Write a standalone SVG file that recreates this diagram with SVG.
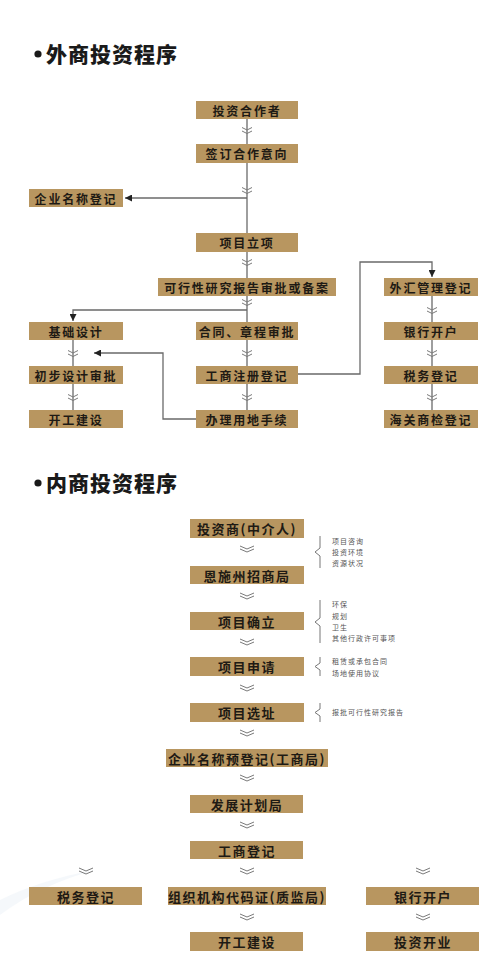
<svg xmlns="http://www.w3.org/2000/svg" width="500" height="967" viewBox="0 0 500 967">
<defs>
<style>
.box{fill:#b89660}
.t{font-family:"Noto Sans CJK SC","Noto Sans",sans-serif;font-weight:bold;font-size:12px;fill:#1e1a14;text-anchor:middle;dominant-baseline:central;letter-spacing:1.8px}
.t2{font-family:"Noto Sans CJK SC","Noto Sans",sans-serif;font-weight:bold;font-size:13px;fill:#1e1a14;text-anchor:middle;dominant-baseline:central;letter-spacing:1.5px}
.title{font-family:"Noto Sans CJK SC","Noto Sans",sans-serif;font-weight:900;font-size:21px;fill:#1a1a1a;letter-spacing:1px}
.side{font-family:"Noto Sans CJK SC","Noto Sans",sans-serif;font-size:7px;fill:#555;letter-spacing:1px}
.ln{fill:none;stroke:#6a6a6a;stroke-width:1.3}
.brace{fill:none;stroke:#777;stroke-width:1}
.chev{fill:none;stroke:#7a7a7a;stroke-width:1}
</style>
<marker id="ah" viewBox="0 0 10 10" refX="10" refY="5" markerWidth="7" markerHeight="7" markerUnits="userSpaceOnUse" orient="auto">
<path d="M0,0 L10,5 L0,10 Z" fill="#222"/>
</marker>
<symbol id="cv" overflow="visible"><path class="chev" d="M-5,-3.5 L0,-1 L5,-3.5 M-5,0 L0,2.5 L5,0"/></symbol>
<symbol id="cv2" overflow="visible"><path class="chev" d="M-7,-3 L0,0 L7,-3 M-7,0 L0,3 L7,0"/></symbol>
</defs>
<rect width="500" height="967" fill="#ffffff"/>
<path d="M0,900 Q40,880 95,870 Q40,885 0,915 Z" fill="#eef3f8" opacity="0.6"/>

<!-- Titles -->
<g id="title1"><circle cx="38" cy="54" r="3.6" fill="#1a1a1a"/><text class="title" x="46" y="62">外商投资程序</text></g>
<g id="title2"><circle cx="38" cy="483" r="3.6" fill="#1a1a1a"/><text class="title" x="46" y="491">内商投资程序</text></g>

<!-- Connectors -->
<g id="connectors">
<path class="ln" d="M247,119 V410"/>
<path class="ln" d="M247,198 H125" marker-end="url(#ah)"/>
<path class="ln" d="M247,310 H73 V321" marker-end="url(#ah)"/>
<path class="ln" d="M73,340 V410"/>
<path class="ln" d="M196,419 H163 V353 H94" marker-end="url(#ah)"/>
<path class="ln" d="M298,374 H360 V262 H432 V277" marker-end="url(#ah)"/>
<path class="ln" d="M432,296 V410"/>
<use href="#cv" x="247" y="131"/>
<use href="#cv" x="247" y="191"/>
<use href="#cv" x="247" y="263"/>
<use href="#cv" x="247" y="303"/>
<use href="#cv" x="247" y="354"/>
<use href="#cv" x="247" y="398"/>
<use href="#cv" x="73" y="354"/>
<use href="#cv" x="73" y="398"/>
<use href="#cv" x="432" y="311"/>
<use href="#cv" x="432" y="354"/>
<use href="#cv" x="432" y="398"/>

<use href="#cv2" x="247" y="549"/>
<use href="#cv2" x="247" y="596"/>
<use href="#cv2" x="247" y="642"/>
<use href="#cv2" x="247" y="688"/>
<use href="#cv2" x="247" y="733"/>
<use href="#cv2" x="247" y="778"/>
<use href="#cv2" x="247" y="825"/>
<use href="#cv2" x="247" y="871"/>
<use href="#cv2" x="86" y="871"/>
<use href="#cv2" x="423" y="871"/>
<use href="#cv2" x="247" y="917"/>
<use href="#cv2" x="423" y="917"/>
</g>

<!-- Top section nodes -->
<g id="n1"><rect class="box" x="196" y="101" width="102" height="18"/><text class="t" x="247" y="110">投资合作者</text></g>
<g id="n2"><rect class="box" x="196" y="144" width="102" height="19"/><text class="t" x="247" y="153.5">签订合作意向</text></g>
<g id="n3"><rect class="box" x="29" y="189" width="94" height="18"/><text class="t" x="76" y="198">企业名称登记</text></g>
<g id="n4"><rect class="box" x="196" y="233" width="102" height="19"/><text class="t" x="247" y="242.5">项目立项</text></g>
<g id="n5"><rect class="box" x="158" y="278" width="178" height="18"/><text class="t" x="247" y="287">可行性研究报告审批或备案</text></g>
<g id="n6"><rect class="box" x="29" y="322" width="94" height="18"/><text class="t" x="76" y="331">基础设计</text></g>
<g id="n7"><rect class="box" x="196" y="322" width="102" height="18"/><text class="t" x="247" y="331">合同、章程审批</text></g>
<g id="n8"><rect class="box" x="29" y="366" width="94" height="18"/><text class="t" x="76" y="375">初步设计审批</text></g>
<g id="n9"><rect class="box" x="196" y="366" width="102" height="18"/><text class="t" x="247" y="375">工商注册登记</text></g>
<g id="n10"><rect class="box" x="29" y="410" width="94" height="18"/><text class="t" x="76" y="419">开工建设</text></g>
<g id="n11"><rect class="box" x="196" y="410" width="102" height="18"/><text class="t" x="247" y="419">办理用地手续</text></g>
<g id="n12"><rect class="box" x="384" y="278" width="94" height="18"/><text class="t" x="431" y="287">外汇管理登记</text></g>
<g id="n13"><rect class="box" x="384" y="322" width="94" height="18"/><text class="t" x="431" y="331">银行开户</text></g>
<g id="n14"><rect class="box" x="384" y="366" width="94" height="18"/><text class="t" x="431" y="375">税务登记</text></g>
<g id="n15"><rect class="box" x="384" y="410" width="94" height="18"/><text class="t" x="431" y="419">海关商检登记</text></g>

<!-- Bottom section nodes -->
<g id="m1"><rect class="box" x="190" y="519" width="114" height="19"/><text class="t2" x="247" y="528.5">投资商(中介人)</text></g>
<g id="m2"><rect class="box" x="190" y="566" width="114" height="18"/><text class="t2" x="247" y="575">恩施州招商局</text></g>
<g id="m3"><rect class="box" x="190" y="612" width="114" height="18"/><text class="t2" x="247" y="621">项目确立</text></g>
<g id="m4"><rect class="box" x="190" y="657" width="114" height="19"/><text class="t2" x="247" y="666.5">项目申请</text></g>
<g id="m5"><rect class="box" x="190" y="703" width="114" height="19"/><text class="t2" x="247" y="712.5">项目选址</text></g>
<g id="m6"><rect class="box" x="166" y="749" width="162" height="18"/><text class="t2" x="247" y="758">企业名称预登记(工商局)</text></g>
<g id="m7"><rect class="box" x="190" y="795" width="113" height="18"/><text class="t2" x="247" y="804">发展计划局</text></g>
<g id="m8"><rect class="box" x="190" y="841" width="113" height="18"/><text class="t2" x="247" y="850">工商登记</text></g>
<g id="m9"><rect class="box" x="29" y="887" width="113" height="18"/><text class="t2" x="86" y="896">税务登记</text></g>
<g id="m10"><rect class="box" x="168" y="887" width="158" height="18"/><text class="t2" x="247" y="896">组织机构代码证(质监局)</text></g>
<g id="m11"><rect class="box" x="366" y="887" width="113" height="18"/><text class="t2" x="423" y="896">银行开户</text></g>
<g id="m12"><rect class="box" x="190" y="932" width="113" height="19"/><text class="t2" x="247" y="941.5">开工建设</text></g>
<g id="m13"><rect class="box" x="366" y="932" width="113" height="19"/><text class="t2" x="423" y="941.5">投资开业</text></g>

<!-- Side notes -->
<g id="note1">
<path class="brace" d="M320,536 V548 L315,552 L320,556 V568"/>
<text class="side" x="332" y="544">项目咨询</text>
<text class="side" x="332" y="555">投资环境</text>
<text class="side" x="332" y="566">资源状况</text>
</g>
<g id="note2">
<path class="brace" d="M320,600 V618 L315,622 L320,626 V643"/>
<text class="side" x="332" y="607">环保</text>
<text class="side" x="332" y="619">规划</text>
<text class="side" x="332" y="630">卫生</text>
<text class="side" x="332" y="641">其他行政许可事项</text>
</g>
<g id="note3">
<path class="brace" d="M320,657 V663 L315,666.5 L320,670 V676"/>
<text class="side" x="332" y="664">租赁或承包合同</text>
<text class="side" x="332" y="676">场地使用协议</text>
</g>
<g id="note4">
<path class="brace" d="M320,703 V709 L315,712.5 L320,716 V722"/>
<text class="side" x="332" y="715">报批可行性研究报告</text>
</g>
</svg>
